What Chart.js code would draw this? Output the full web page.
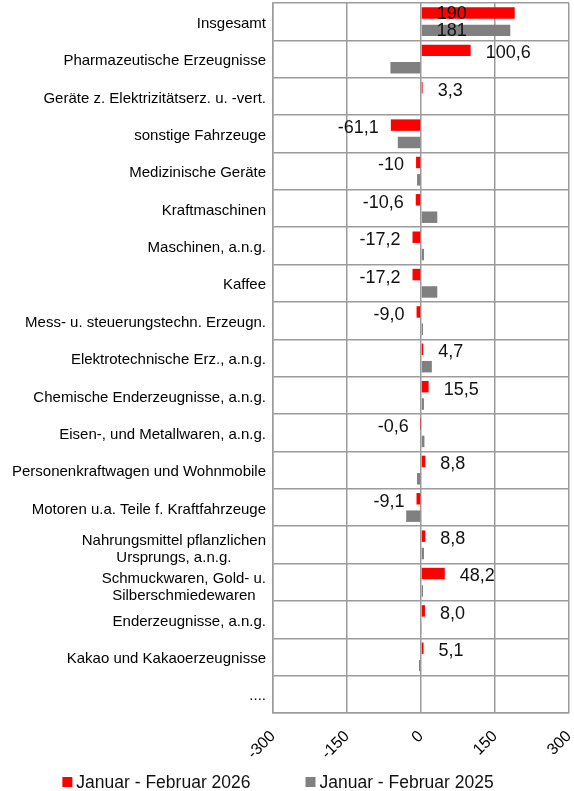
<!DOCTYPE html>
<html lang="de">
<head>
<meta charset="utf-8">
<title>Veränderungen ggü. Vorjahr</title>
<script src="https://cdn.jsdelivr.net/npm/chart.js@4.4.1/dist/chart.umd.min.js"></script>
<style>
    html, body { margin: 0; padding: 0; background: #fff; }
    #wrap { position: relative; width: 574px; height: 791px; }
</style>
</head>
<body>
<div id="wrap"><canvas id="chart"></canvas></div>
<script>
/* global Chart */
'use strict';

// =========================================================
// Daten
// =========================================================
var categories = [
    'Insgesamt',
    'Pharmazeutische Erzeugnisse',
    'Geräte z. Elektrizitätserz. u. -vert.',
    'sonstige Fahrzeuge',
    'Medizinische Geräte',
    'Kraftmaschinen',
    'Maschinen, a.n.g.',
    'Kaffee',
    'Mess- u. steuerungstechn. Erzeugn.',
    'Elektrotechnische Erz., a.n.g.',
    'Chemische Enderzeugnisse, a.n.g.',
    'Eisen-, und Metallwaren, a.n.g.',
    'Personenkraftwagen und Wohnmobile',
    'Motoren u.a. Teile f. Kraftfahrzeuge',
    ['Nahrungsmittel pflanzlichen', 'Ursprungs, a.n.g.'],
    ['Schmuckwaren, Gold- u.', 'Silberschmiedewaren'],
    'Enderzeugnisse, a.n.g.',
    'Kakao und Kakaoerzeugnisse',
    '....'
];

var values2026 = [190, 100.6, 3.3, -61.1, -10, -10.6, -17.2, -17.2, -9.0, 4.7,
                  15.5, -0.6, 8.8, -9.1, 8.8, 48.2, 8.0, 5.1, null];
var values2025 = [181, -62, 0, -47, -8, 33, 6, 33, 4, 22,
                  6, 7, -8, -30, 6, 4, 1, -4, null];

// beschriftungen wie im original (nicht einheitlich formatiert)
var labels2026 = ['190', '100,6', '3,3', '-61,1', '-10', '-10,6', '-17,2', '-17,2', '-9,0', '4,7',
                  '15,5', '-0,6', '8,8', '-9,1', '8,8', '48,2', '8,0', '5,1', ''];
var labels2025 = ['181'];

var xTicks = [-300, -150, 0, 150, 300];
var seriesNames = ['Januar - Februar 2026', 'Januar - Februar 2025'];

var FONT = '"Liberation Sans", Arial, sans-serif';
var GRID = '#9c9c9c';
var RED = '#ff0000';
var GRAY = '#808080';

// =========================================================
// Plugins
// =========================================================

// Kategorien links: rechtsbündiger Block, mehrzeilige Zeilen zentriert.
var categoryLabels = {
    id: 'categoryLabels',
    afterDraw: function (chart) {
        var ctx = chart.ctx;
        var y = chart.scales.y;
        var right = chart.chartArea.left - 7;
        ctx.save();
        ctx.font = '15px ' + FONT;
        ctx.fillStyle = '#000';
        ctx.textBaseline = 'middle';
        categories.forEach(function (cat, i) {
            var cy = y.getPixelForValue(i);
            if (!Array.isArray(cat)) {
                ctx.textAlign = 'right';
                ctx.fillText(cat, right, cy + 2);
                return;
            }
            var w = Math.max.apply(null, cat.map(function (l) { return ctx.measureText(l).width; }));
            ctx.textAlign = 'center';
            cat.forEach(function (line, k) {
                ctx.fillText(line, right - w / 2, cy + 5 + (k - (cat.length - 1) / 2) * 17);
            });
        });
        ctx.restore();
    }
};

// Werte an den Balken.
var valueLabels = {
    id: 'valueLabels',
    afterDatasetsDraw: function (chart) {
        var ctx = chart.ctx;
        ctx.save();
        ctx.font = '18px ' + FONT;
        ctx.fillStyle = '#111';
        ctx.textBaseline = 'middle';
        [labels2026, labels2025].forEach(function (texts, d) {
            var meta = chart.getDatasetMeta(d);
            meta.data.forEach(function (bar, i) {
                var t = texts[i];
                if (!t) return;
                var v = chart.data.datasets[d].data[i];
                if (i === 0) {
                    // Insgesamt: im Balken
                    ctx.textAlign = 'center';
                    ctx.fillText(t, bar.base + 30, bar.y + 1);
                } else if (v >= 0) {
                    ctx.textAlign = 'left';
                    ctx.fillText(t, bar.x + 15, bar.y + 3);
                } else {
                    ctx.textAlign = 'right';
                    ctx.fillText(t, bar.x - 12, bar.y + 3);
                }
            });
        });
        ctx.restore();
    }
};

// Legende unten (eigene Zeichnung wegen Abständen).
var bottomLegend = {
    id: 'bottomLegend',
    afterDraw: function (chart) {
        var ctx = chart.ctx;
        var colors = [RED, GRAY];
        var box = 10, gap = 4, spacing = 55;
        ctx.save();
        ctx.font = '17.5px ' + FONT;
        var widths = seriesNames.map(function (n) { return ctx.measureText(n).width; });
        var total = widths.reduce(function (a, w) { return a + box + gap + w; }, 0) + spacing;
        var x = (chart.width - total) / 2 - 9;
        var cy = chart.height - 9;
        ctx.textBaseline = 'middle';
        ctx.textAlign = 'left';
        seriesNames.forEach(function (n, i) {
            ctx.fillStyle = colors[i];
            ctx.fillRect(x, cy - 5, box, box);
            ctx.fillStyle = '#111';
            ctx.fillText(n, x + box + gap, cy + 1);
            x += box + gap + widths[i] + spacing;
        });
        ctx.restore();
    }
};

// =========================================================
// Chart
// =========================================================
new Chart(document.getElementById('chart'), {
    type: 'bar',
    data: {
        labels: categories,
        datasets: [
            {
                label:              seriesNames[0],
                data:               values2026,
                backgroundColor:    RED,
                categoryPercentage: 0.93,
                barPercentage:      0.66,
            },
            {
                label:              seriesNames[1],
                data:               values2025,
                backgroundColor:    GRAY,
                categoryPercentage: 0.93,
                barPercentage:      0.66,
            },
        ],
    },
    options: {
        indexAxis: 'y',
        responsive: true,
        maintainAspectRatio: false,
        animation: false,
        layout: { padding: { top: 3, right: 5, left: 0, bottom: 30 } },
        plugins: {
            legend:  { display: false },
            tooltip: { enabled: false },
        },
        scales: {
            x: {
                min: -300,
                max: 300,
                afterBuildTicks: function (scale) {
                    scale.ticks = xTicks.map(function (v) { return { value: v }; });
                },
                afterFit: function (scale) {
                    // kein extra Rand für die gedrehten Randlabels
                    scale.height = 48;
                    scale.paddingLeft = 0;
                    scale.paddingRight = 0;
                },
                ticks: {
                    minRotation: 45,
                    maxRotation: 45,
                    padding: 14,
                    color: '#000',
                    font: { size: 16, family: FONT },
                    callback: function (v) { return String(v); },
                },
                grid:   { color: GRID, lineWidth: 1.5, drawTicks: false },
                border: { color: GRID, width: 1.5 },
            },
            y: {
                ticks:  { display: false },
                grid:   { color: GRID, lineWidth: 1.5, drawTicks: false },
                border: { color: GRID, width: 1.5 },
                afterFit: function (scale) { scale.width = 273; },
            },
        },
    },
    plugins: [categoryLabels, valueLabels, bottomLegend],
});
</script>
</body>
</html>
